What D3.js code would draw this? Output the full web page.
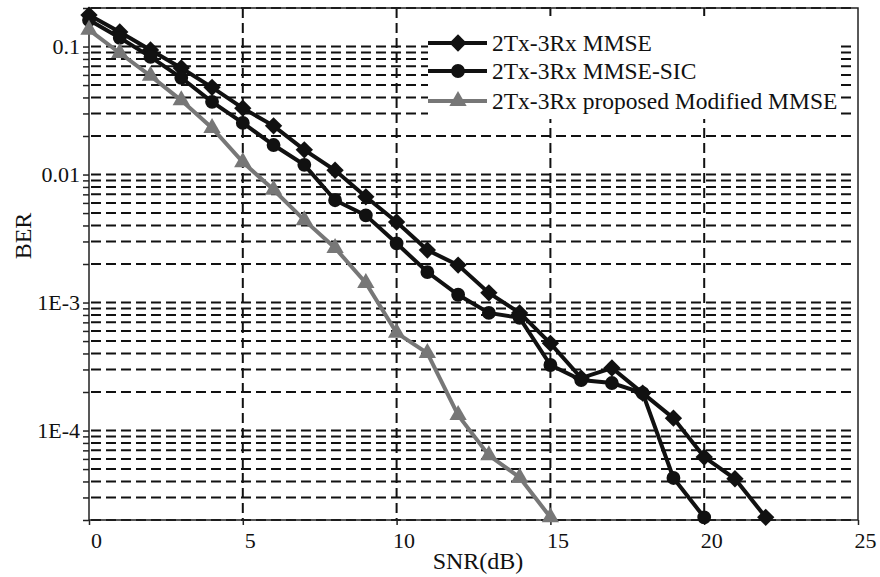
<!DOCTYPE html>
<html>
<head>
<meta charset="utf-8">
<script src="https://cdn.jsdelivr.net/npm/d3@7"></script>
<style>
  body { margin: 0; background: #fff; }
  svg { font-family: "Liberation Serif", "DejaVu Serif", serif; }
</style>
</head>
<body>
<div id="chart"></div>
<script>
// SNR (dB) points for each curve
const snrMMSE = [0,1,2,3,4,5,6,7,8,9,10,11,12,13,14,15,16,17,18,19,20,21,22];
const berMMSE = [0.176,0.130,0.094,0.068,0.048,0.033,0.024,0.0156,0.0108,0.0067,0.00426,0.00257,0.00196,0.00119,0.00083,0.00048,0.000257,0.000308,0.000196,0.000125,0.000062,0.000042,0.000021];

const snrSIC = [0,1,2,3,4,5,6,7,8,9,10,11,12,13,14,15,16,17,18,19,20];
const berSIC = [0.161,0.117,0.083,0.057,0.037,0.0253,0.017,0.0119,0.0063,0.0048,0.0029,0.00173,0.00115,0.00083,0.00076,0.000325,0.000248,0.000235,0.000196,0.0000426,0.000021];

const snrProp = [0,1,2,3,4,5,6,7,8,9,10,11,12,13,14,15];
const berProp = [0.135,0.089,0.059,0.038,0.0231,0.0125,0.0076,0.0044,0.00267,0.00142,0.00058,0.000403,0.000132,0.000064,0.000043,0.000021];

const legendLabels = ["2Tx-3Rx MMSE", "2Tx-3Rx MMSE-SIC", "2Tx-3Rx proposed Modified MMSE"];
const xTicks = [0, 5, 10, 15, 20, 25];
const xGrid = [5, 10, 15, 20];
const yTicks = [1e-1, 1e-2, 1e-3, 1e-4];
const yTickLabels = ["0.1", "0.01", "1E-3", "1E-4"];

const width = 880, height = 577;
const margin = { top: 8, right: 22, bottom: 57, left: 89 };
const innerW = width - margin.left - margin.right;
const innerH = height - margin.top - margin.bottom;

const svg = d3.select("#chart").append("svg")
  .attr("width", width).attr("height", height);
const g = svg.append("g").attr("transform", `translate(${margin.left},${margin.top})`);

const x = d3.scaleLinear().domain([0, 25]).range([0, innerW]);
const y = d3.scaleLog().domain([2e-5, 0.2]).range([innerH, 0]);

const yGrid = y.ticks().filter(v => v >= 2e-5 && v <= 0.2);

// grid
g.append("g").selectAll("line.hg").data(yGrid).join("line")
  .attr("x1", 2).attr("x2", innerW - 2)
  .attr("y1", d => y(d)).attr("y2", d => y(d))
  .attr("stroke", "#111").attr("stroke-width", 2)
  .attr("stroke-dasharray", "10,5");
g.append("g").selectAll("line.vg").data(xGrid).join("line")
  .attr("x1", d => x(d)).attr("x2", d => x(d))
  .attr("y1", 0).attr("y2", innerH)
  .attr("stroke", "#111").attr("stroke-width", 2)
  .attr("stroke-dasharray", "10,5");

// legend background hides the grid
g.append("rect")
  .attr("x", 428 - margin.left).attr("y", 16 - margin.top)
  .attr("width", 410).attr("height", 103)
  .attr("fill", "#fff");

// frame
g.append("rect").attr("width", innerW).attr("height", innerH)
  .attr("fill", "none").attr("stroke", "#222").attr("stroke-width", 1.5);

// axes
const xAxis = g.append("g").attr("transform", `translate(0,${innerH})`)
  .call(d3.axisBottom(x).tickValues(xTicks).tickSize(5).tickPadding(7));
xAxis.selectAll("text").attr("dx", 7);

const yAxis = g.append("g")
  .call(d3.axisLeft(y).tickValues(yGrid).tickSize(6).tickPadding(3)
    .tickFormat(d => {
      const i = yTicks.findIndex(t => Math.abs(t - d) / t < 1e-6);
      return i >= 0 ? yTickLabels[i] : "";
    }));

[xAxis, yAxis].forEach(a => {
  a.select(".domain").remove();
  a.selectAll("line").attr("stroke", "#222").attr("stroke-width", 1.5);
  a.selectAll("text").attr("font-size", 22).attr("fill", "#111")
    .attr("font-family", "Liberation Serif, serif");
});

// axis titles
svg.append("text")
  .attr("x", 478).attr("y", 569)
  .attr("text-anchor", "middle")
  .attr("font-size", 24).attr("fill", "#111")
  .text("SNR(dB)");
svg.append("text")
  .attr("transform", "translate(31,236) rotate(-90)")
  .attr("text-anchor", "middle")
  .attr("font-size", 24).attr("fill", "#111")
  .text("BER");

// series (diamond = square turned 45deg)
const series = [
  { snr: snrMMSE, ber: berMMSE, color: "#111", shape: d3.symbolSquare, size: 150, rot: 45, width: 4 },
  { snr: snrSIC, ber: berSIC, color: "#111", shape: d3.symbolCircle, size: 150, rot: 0, width: 4 },
  { snr: snrProp, ber: berProp, color: "#777", shape: d3.symbolTriangle, size: 130, rot: 0, width: 4 }
];

const line = d3.line().x(d => x(d[0])).y(d => y(d[1]));

series.forEach(s => {
  const pts = s.snr.map((v, i) => [v, s.ber[i]]);
  g.append("path").datum(pts)
    .attr("d", line).attr("fill", "none")
    .attr("stroke", s.color).attr("stroke-width", s.width);
  g.append("g").selectAll("path").data(pts).join("path")
    .attr("d", d3.symbol().type(s.shape).size(s.size))
    .attr("transform", d => `translate(${x(d[0])},${y(d[1])}) rotate(${s.rot})`)
    .attr("fill", s.color);
});

// legend
const rowsY = [43, 71, 101];
series.forEach((s, i) => {
  const lg = svg.append("g").attr("transform", `translate(0,${rowsY[i]})`);
  lg.append("line").attr("x1", 428).attr("x2", 487)
    .attr("stroke", s.color).attr("stroke-width", s.width);
  lg.append("path")
    .attr("d", d3.symbol().type(s.shape).size(s.size))
    .attr("transform", `translate(458,0) rotate(${s.rot})`)
    .attr("fill", s.color);
  lg.append("text").attr("x", 492).attr("dy", "0.35em")
    .attr("font-size", 23.5).attr("fill", "#111")
    .text(legendLabels[i]);
});
</script>
</body>
</html>
